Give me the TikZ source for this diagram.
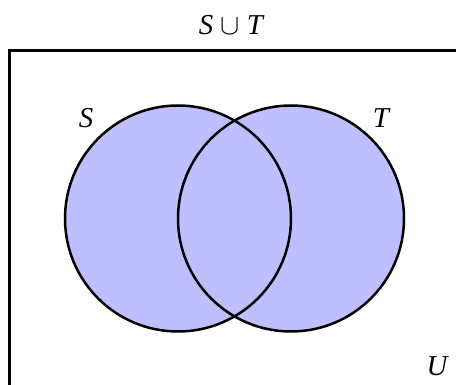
\documentclass[tikz,border=0pt]{standalone}
\usepackage{fontspec}
\setmainfont{Liberation Serif}
\usetikzlibrary{positioning}

\begin{document}
\begin{tikzpicture}[
        x=0.5pt, y=-0.5pt,
        setfill/.style={fill=blue!25},
        setline/.style={draw=black, line width=1.25pt},
        lbl/.style={font=\fontsize{14.4}{17}\selectfont\itshape, inner sep=0pt}
    ]
    \useasboundingbox (0,0) rectangle (456,385);
    \clip (0,0) rectangle (456,385);

    % universe
    \draw[line width=1.3pt] (9.5,480) |- (560,50.5);

    % the two sets
    \coordinate (cs) at (178,218.5);
    \coordinate (ct) at (291,218.5);
    \fill[setfill] (cs) circle[radius=56.5pt];
    \fill[setfill] (ct) circle[radius=56.5pt];
    \draw[setline] (cs) circle[radius=56.5pt];
    \draw[setline] (ct) circle[radius=56.5pt];

    \node[lbl] (s) at (86,118) {S};
    \node[lbl] (t) at (381,118) {T};
    \node[lbl] (u) at (437,366) {U};
    \node[lbl] (title) at (231,25) {S $\cup$ T};
\end{tikzpicture}
\end{document}
